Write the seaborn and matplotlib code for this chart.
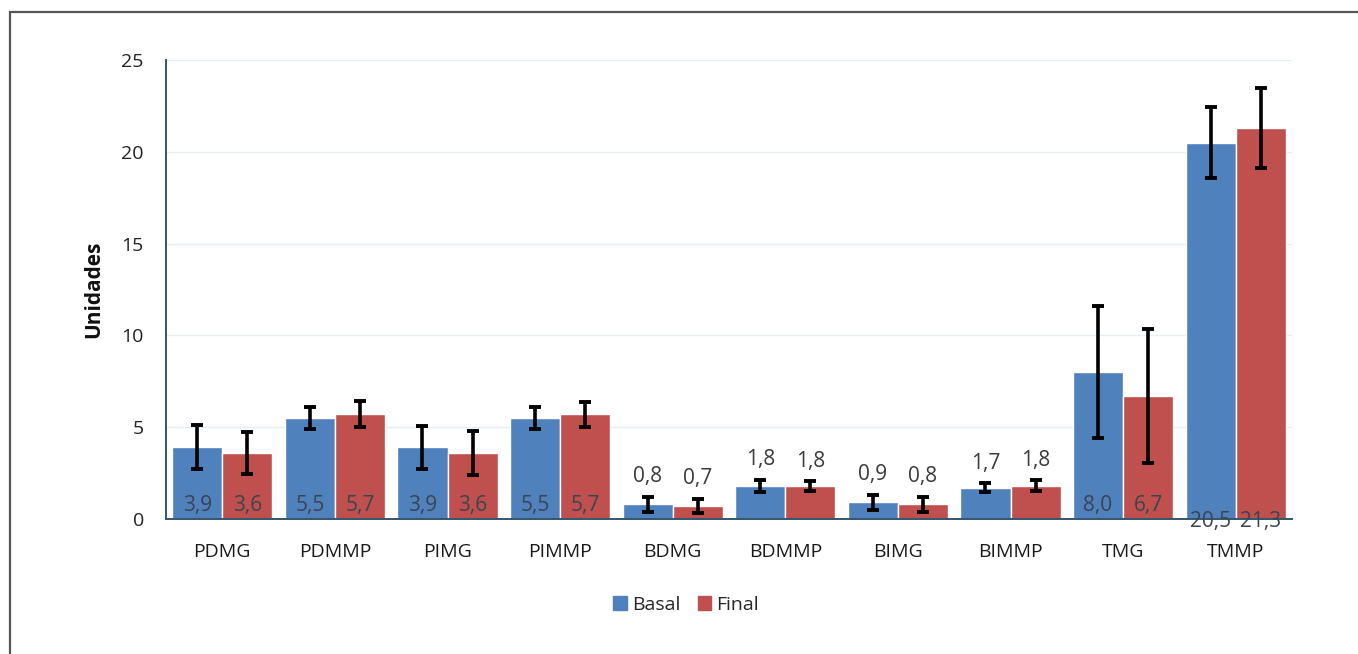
import matplotlib
matplotlib.use("Agg")
import matplotlib.pyplot as plt
import matplotlib.patches as mpatches
import seaborn as sns
import pandas as pd
import numpy as np

categories = ["PDMG", "PDMMP", "PIMG", "PIMMP", "BDMG", "BDMMP", "BIMG", "BIMMP", "TMG", "TMMP"]
basal = [3.9, 5.5, 3.9, 5.5, 0.8, 1.8, 0.9, 1.7, 8.0, 20.5]
final = [3.6, 5.7, 3.6, 5.7, 0.7, 1.8, 0.8, 1.8, 6.7, 21.3]
basal_err = [1.2, 0.6, 1.17, 0.6, 0.4, 0.32, 0.4, 0.25, 3.6, 1.95]
final_err = [1.15, 0.7, 1.2, 0.68, 0.4, 0.25, 0.4, 0.3, 3.65, 2.2]
series_names = ["Basal", "Final"]
yticks = [0, 5, 10, 15, 20, 25]

BLUE = "#4F81BD"
RED = "#C0504D"

sns.set_theme(style="white")
plt.rcParams["font.family"] = ["Open Sans", "DejaVu Sans"]

df = pd.DataFrame({
    "cat": categories * 2,
    "val": basal + final,
    "serie": [series_names[0]] * len(categories) + [series_names[1]] * len(categories),
})

fig = plt.figure(figsize=(13.58, 6.54), dpi=100)
ax = fig.add_axes([166 / 1358, 1 - 519 / 654, (1292 - 166) / 1358, (519 - 60) / 654])

sns.barplot(data=df, x="cat", y="val", hue="serie", order=categories,
            hue_order=series_names, palette=[BLUE, RED], width=0.89,
            saturation=1, errorbar=None, legend=False, ax=ax, zorder=2)

ax.set_ylim(0, 25)
ax.set_xlim(-0.5, len(categories) - 0.5)
ax.set_yticks(yticks)
ax.set_yticklabels([str(t) for t in yticks])
ax.grid(axis="y", color="#e4eef7", lw=1.0, zorder=0)
ax.set_axisbelow(True)

for s in ["top", "right"]:
    ax.spines[s].set_visible(False)
for s in ["left", "bottom"]:
    ax.spines[s].set_color("#34556a")
    ax.spines[s].set_linewidth(1.4)
    ax.spines[s].set_zorder(5)

ax.tick_params(axis="y", length=0, pad=16, labelsize=14, labelcolor="#222222")
ax.tick_params(axis="x", length=0, pad=17, labelsize=14, labelcolor="#1a1a1a")
ax.set_xlabel("")
ax.set_ylabel("Unidades", fontsize=15, fontweight="bold", labelpad=12, color="#111111")

errs = [basal_err, final_err]
vals = [basal, final]
for cont, err, v in zip(ax.containers, errs, vals):
    xs = [p.get_x() + p.get_width() / 2 for p in cont.patches]
    hs = [p.get_height() for p in cont.patches]
    ax.errorbar(xs, hs, yerr=err, fmt="none", ecolor="black", elinewidth=2.6,
                capsize=4.5, capthick=2.8, zorder=6)
    for x, h, e, val in zip(xs, hs, err, v):
        lab = f"{val:.1f}".replace(".", ",")
        if h < 2.5:
            ax.text(x, h + e + 1.1, lab, ha="center", va="center", fontsize=15,
                    color="#3a3a3a", zorder=7)
        elif h > 15:
            ax.text(x, -0.15, lab, ha="center", va="center", fontsize=15,
                    color="#3a4450", zorder=7, clip_on=False)
        else:
            ax.text(x, 0.72, lab, ha="center", va="center", fontsize=15,
                    color="#3a4450", zorder=7)

handles = [mpatches.Patch(color=BLUE, label=series_names[0]),
           mpatches.Patch(color=RED, label=series_names[1])]
fig.legend(handles=handles, loc="center", bbox_to_anchor=(686 / 1358, 1 - 605 / 654),
           ncol=2, frameon=False, fontsize=14, handlelength=0.7, handleheight=0.7,
           handletextpad=0.25, columnspacing=0.9)

border = mpatches.Rectangle((10 / 1358, -0.05), 1.1, 1 - 12 / 654 + 0.05,
                            transform=fig.transFigure, fill=False,
                            edgecolor="#555555", lw=1.6, clip_on=False)
fig.patches.append(border)

fig.savefig("out.png", dpi=100, facecolor="white")
